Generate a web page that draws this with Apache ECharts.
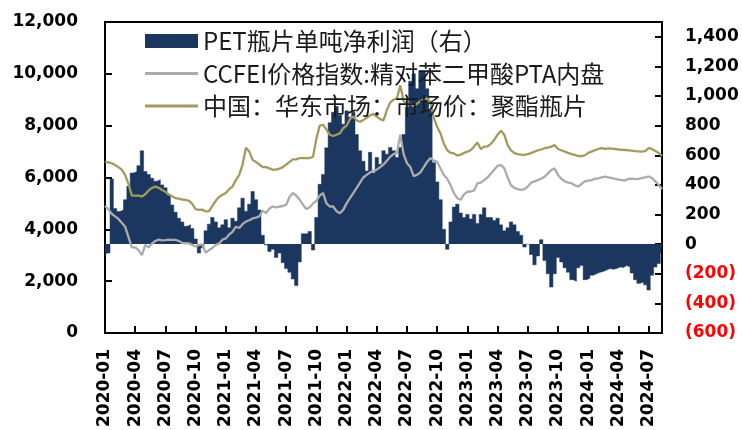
<!DOCTYPE html>
<html><head><meta charset="utf-8">
<script src="https://cdn.jsdelivr.net/npm/echarts@6/dist/echarts.min.js"></script>
<style>html,body{margin:0;padding:0;background:#fff}#c{width:742px;height:430px}</style>
</head><body><div id="c"></div>
<script>
// ---- categories: three readings per month (days 01, 11, 21), 2020-01-01 .. 2024-08-11
const years = [2020, 2021, 2022, 2023, 2024];
const months = ['01','02','03','04','05','06','07','08','09','10','11','12'];
const subDays = ['01','11','21'];
const lastMonthKey = '2024-08';
const lastMonthDays = ['01','11'];
const quarterMonths = ['01','04','07','10'];

const seriesNames = ['PET瓶片单吨净利润（右）', 'CCFEI价格指数:精对苯二甲酸PTA内盘', '中国：华东市场：市场价：聚酯瓶片'];

// PET bottle-chip net profit per tonne (right axis, yuan/t)
const profit = [
  // 2020
  -80,-60,440, 240,220,230, 300,390,480, 490,530,630, 490,470,445, 425,435,400,
  380,330,265, 215,175,150, 120,130,105, 35,-60,-25, 90,135,180, 150,110,130,
  // 2021
  165,110,175, 155,245,310, 222,270,355, 300,230,60, -5,-50,-35, -90,-60,-125,
  -165,-190,-235, -280,-120,70, 70,86,-40, 180,404,471, 650,820,890, 930,870,810,
  // 2022
  900,857,890, 740,630,560, 494,620,480, 585,540,630, 607,653,630, 585,653,740,
  925,1100,1150, 1050,1170,1160, 1050,900,550, 420,300,100, -35,150,250, 270,210,180,
  // 2023
  200,170,200, 140,200,245, 180,180,160, 175,130,90, 110,150,130, 86,60,-20,
  0,-70,-140, -80,30,-110, -200,-290,-200, -90,-120,-160, -190,-240,-250, -160,-145,-240,
  // 2024
  -230,-210,-200, -190,-185,-175, -165,-170,-165, -155,-158,-145, -155,-195,-240, -265,-256,-275,
  -310,-210,-155, -131,-86
];

// CCFEI PTA price index (left axis)
const pta = [
  // 2020
  4900,4780,4600, 4500,4400,4250, 4100,3700,3300, 3300,3200,3000, 3400,3300,3450, 3550,3600,3570,
  3580,3600,3590, 3590,3550,3480, 3470,3460,3400, 3340,3400,3420, 3100,3200,3280, 3400,3450,3600,
  // 2021
  3650,3800,3900, 4100,4050,4200, 4300,4350,4420, 4450,4500,4720, 4630,4800,4880, 4850,4880,4900,
  4950,5250,5400, 5300,5150,4950, 4780,4850,5000, 5100,5300,5400, 5000,4880,4880, 4700,4620,4750,
  // 2022
  5000,5200,5400, 5600,5800,6000, 6100,6200,6250, 6300,6400,6500, 6650,6800,6900, 6950,7650,6900,
  6550,6400,6050, 6100,6200,6400, 6600,6750,6650, 6600,6350,6100, 5950,5700,5400, 5200,5140,5350,
  // 2023
  5450,5460,5500, 5780,5800,5900, 6000,6150,6300, 6450,6480,6350, 6000,5700,5600, 5550,5520,5550,
  5650,5800,5850, 5900,5950,6030, 6150,6290,6350, 6100,5950,5850, 5800,5780,5700, 5650,5750,5850,
  // 2024
  5880,5900,5950, 5970,6000,6030, 6000,5980,5950, 5920,5900,5880, 5950,5960,5940, 5950,5980,6000,
  6040,5980,5850, 5720,5550
];

// East China market price of PET bottle chips (left axis)
const petPrice = [
  // 2020
  6600,6580,6550, 6480,6400,6300, 6100,5750,5300, 5300,5300,5270, 5350,5500,5600, 5650,5600,5520,
  5450,5350,5280, 5200,5180,5150, 5140,5100,4980, 4780,4750,4760, 4690,4700,4900, 5100,5250,5330,
  // 2021
  5400,5550,5650, 5900,6100,6500, 7150,7000,6680, 6600,6500,6400, 6400,6350,6300, 6300,6340,6400,
  6500,6600,6700, 6700,6750,6750, 6750,6750,6800, 7500,8000,8030, 7850,7650,7600, 7650,7700,7900,
  // 2022
  8000,8250,8350, 8200,8150,8220, 8300,8400,8450, 8350,8250,8200, 8600,8900,9000, 9050,9550,8950,
  8800,8850,8750, 8850,8950,9000, 9050,8900,8300, 7950,7700,7300, 7050,6950,6930, 6850,6880,6950,
  // 2023
  7000,7050,7200, 7350,7100,7190, 7200,7300,7450, 7650,7800,7650, 7250,7050,6940, 6900,6880,6870,
  6900,6940,7000, 7050,7080,7130, 7150,7190,7250, 7100,7050,7000, 6950,6900,6870, 6830,6820,6850,
  // 2024
  6950,7000,7050, 7100,7130,7100, 7120,7110,7100, 7080,7070,7060, 7050,7040,7020, 7010,7000,7020,
  7130,7100,7020, 6950,6830
];

const leftTicks = {min: 0, max: 12000, interval: 2000};
const rightTicks = {min: -600, max: 1500, interval: 200, lastLabel: 1400};

// build category list
const dates = [];
outer:
for (const y of years) {
  for (const m of months) {
    const key = y + '-' + m;
    const ds = key === lastMonthKey ? lastMonthDays : subDays;
    for (const d of ds) dates.push(key + '-' + d);
    if (key === lastMonthKey) break outer;
  }
}

function fmt(v) { return String(v).replace(/\B(?=(\d{3})+(?!\d))/g, ','); }
const isQuarterStart = (idx, val) => val.slice(8) === '01' && quarterMonths.includes(val.slice(5, 7));

const NAVY = '#1b3760', GRAY = '#ababab', OLIVE = '#a39a5e';
const axisFont = {fontFamily: 'DejaVu Sans', fontWeight: 'bold', fontSize: 17, color: '#000'};
const legendText = {fontFamily: 'Noto Sans CJK SC', fontSize: 24, color: '#1a1a1a', lineHeight: 28};

const chart = echarts.init(document.getElementById('c'), null, {renderer: 'canvas'});
chart.setOption({
  animation: false,
  backgroundColor: '#fff',
  grid: {left: 105, right: 80, top: 22, bottom: 97, show: true, borderColor: '#000', borderWidth: 2, backgroundColor: 'transparent'},
  legend: [
    {data: [{name: seriesNames[0], icon: 'rect'}], left: 145, top: 27, itemWidth: 53, itemHeight: 14, textStyle: legendText, padding: 0},
    {data: [{name: seriesNames[1], icon: 'rect'}], left: 145, top: 59.5, itemWidth: 53, itemHeight: 3, textStyle: legendText, padding: 0},
    {data: [{name: seriesNames[2], icon: 'rect'}], left: 145, top: 92, itemWidth: 53, itemHeight: 3, textStyle: legendText, padding: 0}
  ],
  xAxis: {
    type: 'category', data: dates, boundaryGap: false,
    axisLine: {lineStyle: {color: '#000', width: 2}},
    axisTick: {inside: true, length: 7, interval: isQuarterStart, lineStyle: {color: '#000', width: 2}},
    axisLabel: Object.assign({}, axisFont, {rotate: 90, margin: 16, interval: isQuarterStart, formatter: v => v.slice(0, 7)}),
    splitLine: {show: false}
  },
  yAxis: [
    {
      type: 'value', position: 'left', min: leftTicks.min, max: leftTicks.max, interval: leftTicks.interval,
      axisLine: {show: true, lineStyle: {color: '#000', width: 2}},
      axisTick: {show: true, inside: true, length: 7, lineStyle: {color: '#000', width: 2}},
      axisLabel: Object.assign({}, axisFont, {margin: 27, formatter: v => fmt(v)}),
      splitLine: {show: false}
    },
    {
      type: 'value', position: 'right', min: rightTicks.min, max: rightTicks.max, interval: rightTicks.interval,
      axisLine: {show: true, lineStyle: {color: '#000', width: 2}},
      axisTick: {show: true, inside: true, length: 7, lineStyle: {color: '#000', width: 2}},
      axisLabel: Object.assign({}, axisFont, {
        margin: 23,
        formatter: v => v > rightTicks.lastLabel ? '' : (v < 0 ? '{neg|(' + fmt(-v) + ')}' : fmt(v)),
        rich: {neg: {fontFamily: 'DejaVu Sans', fontWeight: 'bold', fontSize: 17, color: '#ff0000'}}
      }),
      splitLine: {show: false}
    }
  ],
  series: [
    {
      name: seriesNames[0], type: 'line', step: 'middle', yAxisIndex: 1, data: profit,
      symbol: 'none', lineStyle: {color: NAVY, width: 0.5},
      areaStyle: {color: NAVY, opacity: 1, origin: 0},
      itemStyle: {color: NAVY}
    },
    {
      name: seriesNames[1], type: 'line', yAxisIndex: 0, data: pta,
      symbol: 'none', lineStyle: {color: GRAY, width: 2.3}, itemStyle: {color: GRAY}
    },
    {
      name: seriesNames[2], type: 'line', yAxisIndex: 0, data: petPrice,
      symbol: 'none', lineStyle: {color: OLIVE, width: 2.3}, itemStyle: {color: OLIVE}
    }
  ]
});
</script>
</body></html>
